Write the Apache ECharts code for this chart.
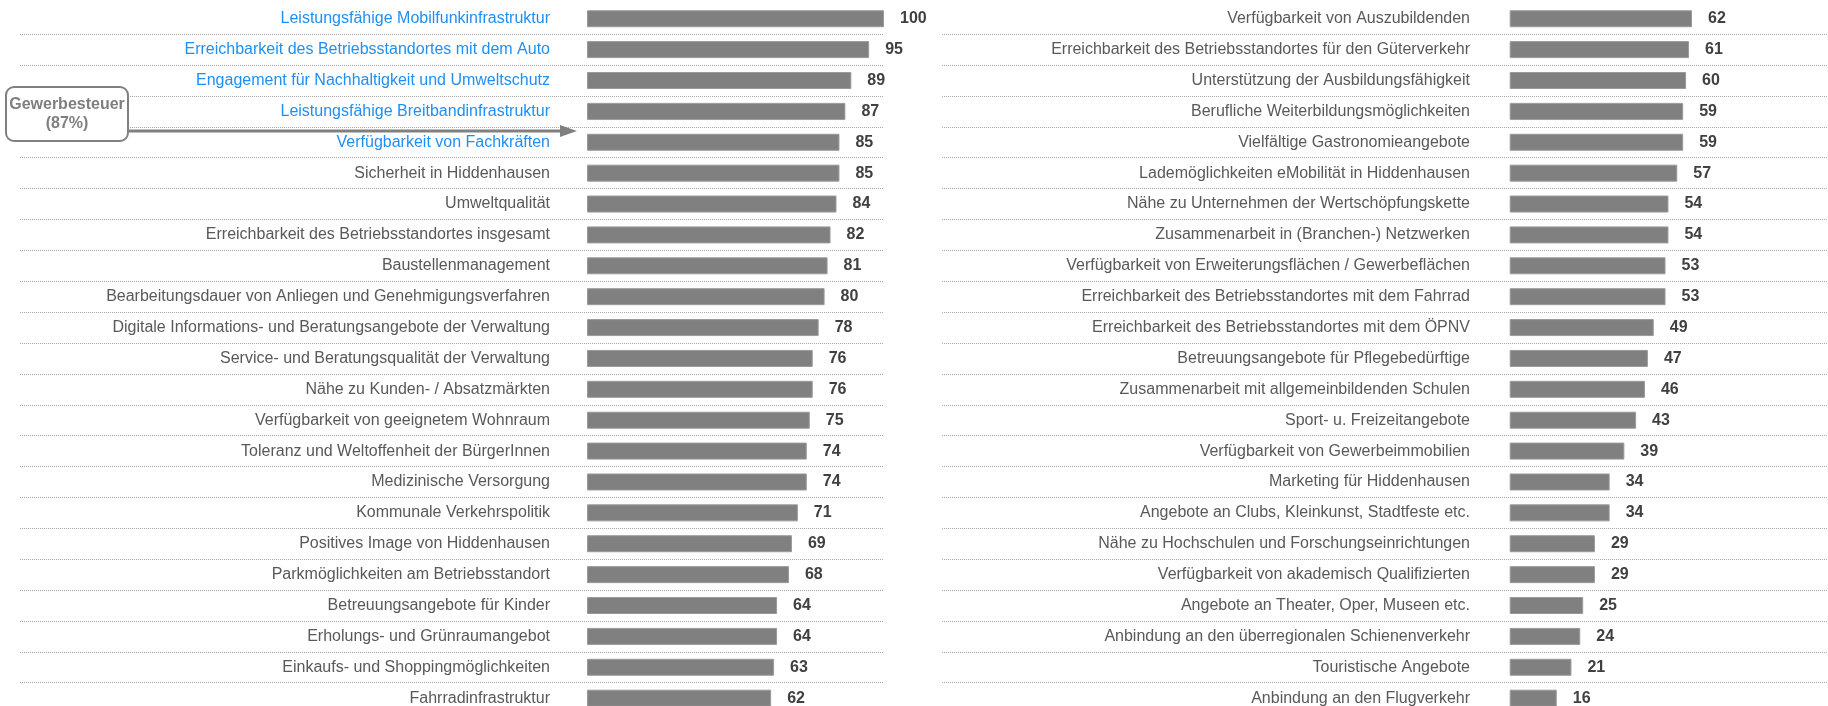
<!DOCTYPE html>
<html>
<head>
<meta charset="utf-8">
<title>Standortfaktoren Hiddenhausen</title>
<script src="https://cdn.jsdelivr.net/npm/echarts@6/dist/echarts.min.js"></script>
<style>
  html, body { margin: 0; padding: 0; background: #fff; }
  #main { width: 1828px; height: 706px; }
</style>
</head>
<body>
<div id="main"></div>
<script>
// Daten linke Spalte
var leftCategories = [
  'Leistungsfähige Mobilfunkinfrastruktur',
  'Erreichbarkeit des Betriebsstandortes mit dem Auto',
  'Engagement für Nachhaltigkeit und Umweltschutz',
  'Leistungsfähige Breitbandinfrastruktur',
  'Verfügbarkeit von Fachkräften',
  'Sicherheit in Hiddenhausen',
  'Umweltqualität',
  'Erreichbarkeit des Betriebsstandortes insgesamt',
  'Baustellenmanagement',
  'Bearbeitungsdauer von Anliegen und Genehmigungsverfahren',
  'Digitale Informations- und Beratungsangebote der Verwaltung',
  'Service- und Beratungsqualität der Verwaltung',
  'Nähe zu Kunden- / Absatzmärkten',
  'Verfügbarkeit von geeignetem Wohnraum',
  'Toleranz und Weltoffenheit der BürgerInnen',
  'Medizinische Versorgung',
  'Kommunale Verkehrspolitik',
  'Positives Image von Hiddenhausen',
  'Parkmöglichkeiten am Betriebsstandort',
  'Betreuungsangebote für Kinder',
  'Erholungs- und Grünraumangebot',
  'Einkaufs- und Shoppingmöglichkeiten',
  'Fahrradinfrastruktur'
]
var leftValues = [100, 95, 89, 87, 85, 85, 84, 82, 81, 80, 78, 76, 76, 75, 74, 74, 71, 69, 68, 64, 64, 63, 62]

// Daten rechte Spalte
var rightCategories = [
  'Verfügbarkeit von Auszubildenden',
  'Erreichbarkeit des Betriebsstandortes für den Güterverkehr',
  'Unterstützung der Ausbildungsfähigkeit',
  'Berufliche Weiterbildungsmöglichkeiten',
  'Vielfältige Gastronomieangebote',
  'Lademöglichkeiten eMobilität in Hiddenhausen',
  'Nähe zu Unternehmen der Wertschöpfungskette',
  'Zusammenarbeit in (Branchen-) Netzwerken',
  'Verfügbarkeit von Erweiterungsflächen / Gewerbeflächen',
  'Erreichbarkeit des Betriebsstandortes mit dem Fahrrad',
  'Erreichbarkeit des Betriebsstandortes mit dem ÖPNV',
  'Betreuungsangebote für Pflegebedürftige',
  'Zusammenarbeit mit allgemeinbildenden Schulen',
  'Sport- u. Freizeitangebote',
  'Verfügbarkeit von Gewerbeimmobilien',
  'Marketing für Hiddenhausen',
  'Angebote an Clubs, Kleinkunst, Stadtfeste etc.',
  'Nähe zu Hochschulen und Forschungseinrichtungen',
  'Verfügbarkeit von akademisch Qualifizierten',
  'Angebote an Theater, Oper, Museen etc.',
  'Anbindung an den überregionalen Schienenverkehr',
  'Touristische Angebote',
  'Anbindung an den Flugverkehr'
]
var rightValues = [62, 61, 60, 59, 59, 57, 54, 54, 53, 53, 49, 47, 46, 43, 39, 34, 34, 29, 29, 25, 24, 21, 16]

// blau markierte Faktoren (linke Spalte)
var highlighted = [0, 1, 2, 3, 4]

var FONT = '"Liberation Sans", Arial, sans-serif'
var GRID_TOP = 3.3
var GRID_HEIGHT = 710.3

// Achsen für die gepunkteten Trennlinien
function lineAxis (gridIndex, data) {
  return {
    type: 'category',
    gridIndex: gridIndex,
    inverse: true,
    data: data,
    axisLine: { show: false },
    axisTick: { show: false },
    axisLabel: { show: false },
    splitLine: {
      show: true,
      // oberste Linie weglassen
      interval: function (index) { return index > 0 },
      lineStyle: { color: '#a6a6a6', type: [1, 1], width: 1 }
    }
  }
}

// Achsen mit den Beschriftungen
function labelAxis (gridIndex, data, margin, blue) {
  return {
    type: 'category',
    gridIndex: gridIndex,
    inverse: true,
    data: data,
    axisLine: { show: false },
    axisTick: { show: false },
    splitLine: { show: false },
    axisLabel: {
      margin: margin,
      fontSize: 16,
      fontFamily: FONT,
      color: function (value, index) {
        return blue.indexOf(index) >= 0 ? '#1f8ff5' : '#595959'
      }
    }
  }
}

function hiddenX (gridIndex, max) {
  return {
    type: 'value',
    gridIndex: gridIndex,
    min: 0,
    max: max,
    show: false,
    splitLine: { show: false }
  }
}

function barSeries (axisIndex, values) {
  return {
    type: 'bar',
    xAxisIndex: axisIndex,
    yAxisIndex: axisIndex,
    data: values,
    barWidth: 17,
    silent: true,
    animation: false,
    itemStyle: {
      color: '#808080',
      borderColor: '#9a9a9a',
      borderWidth: 1
    },
    label: {
      show: true,
      position: 'right',
      distance: 16,
      fontSize: 16,
      fontWeight: 'bold',
      fontFamily: FONT,
      color: '#404040'
    }
  }
}

function makeGrid (left, width) {
  return {
    left: left,
    width: width,
    top: GRID_TOP,
    height: GRID_HEIGHT,
    outerBoundsMode: 'none'
  }
}

var myChart = echarts.init(document.getElementById('main'))

var option = {
  backgroundColor: '#ffffff',
  animation: false,
  grid: [
    makeGrid(20, 863),
    makeGrid(587, 297),
    makeGrid(942, 885),
    makeGrid(1509.7, 294)
  ],
  xAxis: [
    hiddenX(0, 100),
    hiddenX(1, 100),
    hiddenX(2, 100),
    hiddenX(3, 100)
  ],
  yAxis: [
    lineAxis(0, leftCategories),
    labelAxis(1, leftCategories, 37, highlighted),
    lineAxis(2, rightCategories),
    labelAxis(3, rightCategories, 39.7, [])
  ],
  series: [
    barSeries(1, leftValues),
    barSeries(3, rightValues)
  ],
  graphic: [
    // Kasten Gewerbesteuer
    {
      type: 'rect',
      shape: { x: 6, y: 87, width: 122, height: 54, r: 8 },
      style: { fill: '#ffffff', stroke: '#808080', lineWidth: 2 },
      z: 10
    },
    {
      type: 'text',
      x: 67,
      y: 105,
      style: {
        text: 'Gewerbesteuer',
        fill: '#7f7f7f',
        font: 'bold 16px ' + FONT,
        textAlign: 'center',
        textVerticalAlign: 'middle'
      },
      z: 11
    },
    {
      type: 'text',
      x: 67,
      y: 124,
      style: {
        text: '(87%)',
        fill: '#7f7f7f',
        font: 'bold 16px ' + FONT,
        textAlign: 'center',
        textVerticalAlign: 'middle'
      },
      z: 11
    },
    // Pfeil
    {
      type: 'line',
      shape: { x1: 128, y1: 131, x2: 562, y2: 131 },
      style: { stroke: '#808080', lineWidth: 3 },
      z: 10
    },
    {
      type: 'polygon',
      shape: { points: [[560, 125], [577, 131], [560, 137]] },
      style: { fill: '#808080' },
      z: 10
    }
  ]
}

myChart.setOption(option)
</script>
</body>
</html>
